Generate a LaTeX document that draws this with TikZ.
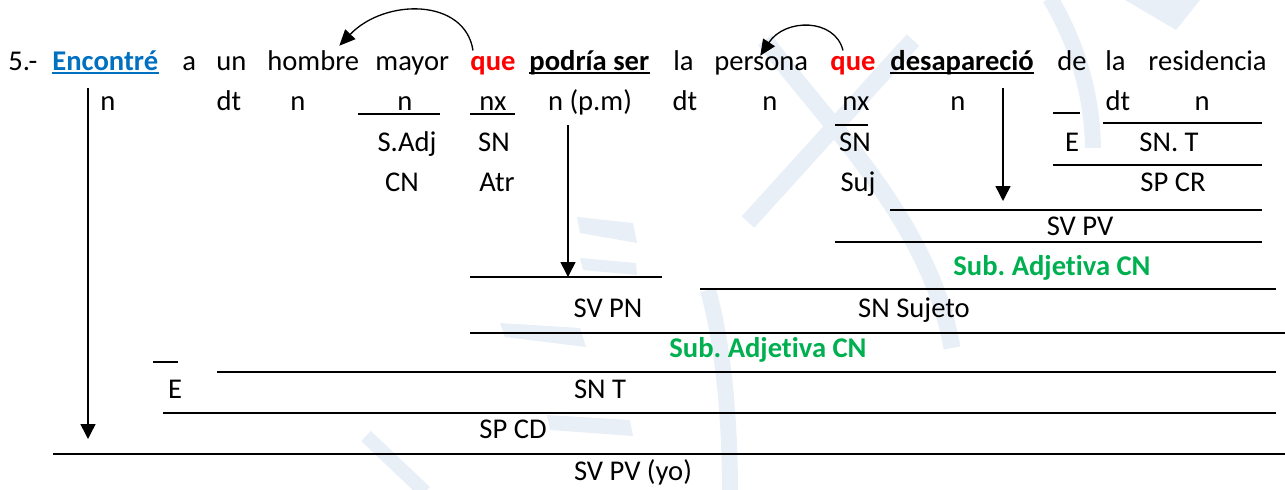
\documentclass[tikz,border=0pt]{standalone}
\usepackage{fontspec}
\setmainfont[Ligatures=NoCommon]{Carlito}
\usetikzlibrary{arrows.meta,calc}
\frenchspacing
\definecolor{wordblue}{RGB}{0,112,192}
\definecolor{relred}{RGB}{255,0,0}
\definecolor{subgreen}{RGB}{0,176,80}
\definecolor{wmblue}{RGB}{233,239,247}
\tikzset{word/.style = {anchor=base west,inner sep=0pt}}
\tikzset{lab/.style = {anchor=base,inner sep=0pt}}
\tikzset{bar/.style = {line width=0.75pt}}
\tikzset{down/.style = {line width=0.75pt,-{Triangle[length=7.5pt,width=7.5pt]}}}
\tikzset{back/.style = {line width=0.65pt,-{Triangle[length=8pt,width=7pt]}}}
\tikzset{uline/.style = {line width=0.8pt}}
\tikzset{wmark/.style = {draw=wmblue,line width=8.5pt}}

\begin{document}
\begin{tikzpicture}[x=0.5pt,y=-0.5pt,font=\fontsize{14.3}{17}\selectfont]
  \useasboundingbox (0,0) rectangle (1285,489);

  % marca de agua
  \draw[wmark] (748,222) -- (913,40);
  \draw[wmark] (765,40) .. controls (822,118) and (930,220) .. (952,348);
  \draw[wmark,line width=8pt] (1050,-2) .. controls (1075,40) and (1092,90) .. (1093,148);
  \draw[wmark,line width=8pt] (708,290) .. controls (722,340) and (730,410) .. (730,495);
  \draw[wmark,line width=7pt] (366,436) -- (425,492);
  \fill[wmblue] (1125,0) -- (1176,30) -- (1200,0) -- cycle;
  \fill[wmblue] (577,217) -- (633,223) -- (637,243) -- (580,233) -- cycle;
  \fill[wmblue] (580,258) -- (636,263) -- (637,275) -- (583,270) -- cycle;
  \fill[wmblue] (500,323) -- (580,328) -- (586,347) -- (505,337) -- cycle;
  \fill[wmblue] (547,415) -- (630,420) -- (633,436) -- (550,430) -- cycle;

  % oracion
  \node[word] (num) at (8,70) {5.-};
  \node[word,text=wordblue] (enc) at (52,70) {\textbf{Encontré}};
  \node[word] (a) at (182,70) {a};
  \node[word] (un) at (216,70) {un};
  \node[word] (hombre) at (267,70) {hombre};
  \node[word] (mayor) at (375,70) {mayor};
  \node[word,text=relred] (que1) at (470,70) {\textbf{que}};
  \node[word] (podria) at (529,70) {\textbf{podría ser}};
  \node[word] (la1) at (673,70) {la};
  \node[word] (persona) at (714,70) {persona};
  \node[word,text=relred] (que2) at (830,70) {\textbf{que}};
  \node[word] (desap) at (890,70) {\textbf{desapareció}};
  \node[word] (de) at (1057,70) {de};
  \node[word] (la2) at (1105,70) {la};
  \node[word] (resid) at (1148,70) {residencia};

  \draw[uline,wordblue] ($(enc.base west)+(0,3)$) -- ($(enc.base east)+(0,3)$);
  \draw[uline] ($(podria.base west)+(0,3)$) -- ($(podria.base east)+(0,3)$);
  \draw[uline] ($(desap.base west)+(0,3)$) -- ($(desap.base east)+(0,3)$);

  \draw[back] ($(que1.north west)+(3,-5)$) .. controls (465,-2) and (385,-2) .. ($(hombre.north)+(26,-4)$);
  \draw[back] ($(que2.north west)+(13,-5)$) .. controls (835,18) and (785,18) .. ($(persona.north)+(-1,0)$);

  % categorias
  \node[lab] (n1) at (108,110) {n};
  \node[lab] (dt1) at (229,110) {dt};
  \node[lab] (n2) at (298,110) {n};
  \node[lab] (n3) at (405,110) {n};
  \node[lab] (nx1) at (493,110) {nx};
  \node[lab] (npm) at (590,110) {n (p.m)};
  \node[lab] (dt2) at (685,110) {dt};
  \node[lab] (n4) at (770,110) {n};
  \node[lab] (nx2) at (856,110) {nx};
  \node[lab] (n5) at (958,110) {n};
  \node[lab] (dt3) at (1118,110) {dt};
  \node[lab] (n6) at (1202,110) {n};

  \node[lab] (sadj) at (407,151) {S.Adj};
  \node[lab] (sn1) at (494,151) {SN};
  \node[lab] (sn2) at (855,151) {SN};
  \node[lab] (e1) at (1072,151) {E};
  \node[lab] (snt1) at (1169,151) {SN. T};

  \node[lab] (cn1) at (402,191) {CN};
  \node[lab] (atr) at (497,191) {Atr};
  \node[lab] (suj) at (858,191) {Suj};
  \node[lab] (spcr) at (1173,191) {SP CR};

  % funciones
  \node[lab] (svpv) at (1080,235) {SV PV};
  \node[lab,text=subgreen] (sub1) at (1052,275) {\textbf{Sub. Adjetiva CN}};
  \node[lab] (svpn) at (608,317) {SV PN};
  \node[lab] (snsuj) at (914,317) {SN Sujeto};
  \node[lab,text=subgreen] (sub2) at (768,357) {\textbf{Sub. Adjetiva CN}};
  \node[lab] (e2) at (175,398) {E};
  \node[lab] (snt2) at (600,398) {SN T};
  \node[lab] (spcd) at (513,438) {SP CD};
  \node[lab] (svpvyo) at (633,480) {SV PV (yo)};

  % rayas
  \draw[bar] (358,114) -- (440,114);
  \draw[bar] (470,114) -- (515,114);
  \draw[bar] (835,125) -- (868,125);
  \draw[bar] (1053,113) -- (1080,113);
  \draw[bar] (1103,123) -- (1262,123);
  \draw[bar] (1053,165) -- (1262,165);
  \draw[bar] (890,210) -- (1262,210);
  \draw[bar] (835,242) -- (1262,242);
  \draw[bar] (470,277) -- (662,277);
  \draw[bar] (700,289) -- (1276,289);
  \draw[bar] (470,333) -- (1285,333);
  \draw[bar] (153,362) -- (178,362);
  \draw[bar] (217,372) -- (1276,372);
  \draw[bar] (163,413) -- (1276,413);
  \draw[bar] (53,454) -- (1285,454);

  % flechas verbales
  \coordinate (vtop1) at (88,88);
  \coordinate (vend1) at (88,439);
  \coordinate (vtop2) at (568,125);
  \coordinate (vend2) at (568,277);
  \coordinate (vtop3) at (1003,88);
  \coordinate (vend3) at (1003,201);
  \draw[down] (vtop1) -- (vend1);
  \draw[down] (vtop2) -- (vend2);
  \draw[down] (vtop3) -- (vend3);
\end{tikzpicture}
\end{document}
